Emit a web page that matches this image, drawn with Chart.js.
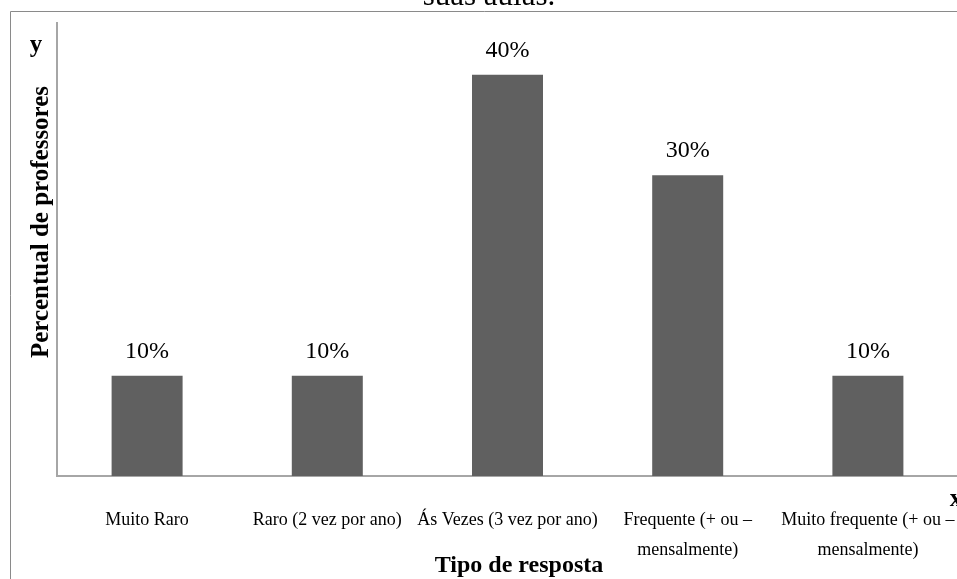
<!DOCTYPE html>
<html>
<head>
<meta charset="utf-8">
<script src="https://cdn.jsdelivr.net/npm/chart.js@4.4.1/dist/chart.umd.min.js"></script>
<style>
  html, body { margin: 0; padding: 0; background: #ffffff; }
  #wrap { position: relative; width: 957px; height: 579px; overflow: hidden; }
  canvas { display: block; }
</style>
</head>
<body>
<div id="wrap"><canvas id="chart" width="958" height="579"></canvas></div>
<script>
// Categories (response types) and share of teachers, in percent
const categories = [
  ['Muito Raro'],
  ['Raro (2 vez por ano)'],
  ['Ás Vezes (3 vez por ano)'],
  ['Frequente (+ ou –', 'mensalmente)'],
  ['Muito frequente (+ ou –', 'mensalmente)']
];
const percentages = [10, 10, 40, 30, 10];
const valueLabels = ['10%', '10%', '40%', '30%', '10%'];
const yAxisMax = 45.2;

const SERIF = '"Liberation Serif", "Times New Roman", Times, serif';
const AXIS_GREY = '#a6a6a6';

// Frame, titles and value labels drawn on top of the chart
const decorations = {
  id: 'decorations',
  afterDatasetsDraw(chart) {
    const ctx = chart.ctx;
    const meta = chart.getDatasetMeta(0);
    ctx.save();
    ctx.fillStyle = '#000';
    ctx.font = '24px ' + SERIF;
    ctx.textAlign = 'center';
    ctx.textBaseline = 'alphabetic';
    meta.data.forEach((bar, i) => {
      ctx.fillText(valueLabels[i], bar.x, bar.y - 18);
    });
    ctx.restore();
  },
  afterDraw(chart) {
    const ctx = chart.ctx;
    ctx.save();
    // outer frame
    ctx.strokeStyle = '#8a8a8a';
    ctx.lineWidth = 1;
    ctx.beginPath();
    ctx.moveTo(10.5, 579);
    ctx.lineTo(10.5, 11.5);
    ctx.lineTo(958, 11.5);
    ctx.stroke();

    ctx.fillStyle = '#000';
    // chart title (last line)
    ctx.font = '31px ' + SERIF;
    ctx.textAlign = 'center';
    ctx.textBaseline = 'alphabetic';
    ctx.fillText('suas aulas.', 489, 5);

    // axis letters
    ctx.font = 'bold 25px ' + SERIF;
    ctx.fillText('y', 36, 52);
    ctx.fillText('x', 956, 506);

    // x axis title
    ctx.font = 'bold 24px ' + SERIF;
    ctx.fillText('Tipo de resposta', 519, 572);

    // y axis title
    ctx.translate(48, 222);
    ctx.rotate(-Math.PI / 2);
    ctx.font = 'bold 25px ' + SERIF;
    ctx.fillText('Percentual de professores', 0, 0);
    ctx.restore();
  }
};

new Chart(document.getElementById('chart'), {
  type: 'bar',
  data: {
    labels: categories,
    datasets: [{
      data: percentages,
      backgroundColor: '#606060',
      borderWidth: 0,
      barPercentage: 0.394,
      categoryPercentage: 1.0
    }]
  },
  options: {
    responsive: false,
    animation: false,
    devicePixelRatio: 1,
    layout: { padding: { left: 57, top: 22.7, right: 0, bottom: 0 } },
    plugins: {
      legend: { display: false },
      title: { display: false },
      tooltip: { enabled: false }
    },
    scales: {
      x: {
        offset: true,
        grid: { display: false, drawTicks: false },
        border: { display: true, color: AXIS_GREY, width: 2 },
        ticks: {
          color: '#000',
          font: { family: SERIF, size: 18, lineHeight: '30px' },
          padding: 29,
          autoSkip: false,
          maxRotation: 0,
          minRotation: 0
        },
        afterFit(scale) {
          scale.height = 103;
          scale.paddingLeft = 0;
          scale.paddingRight = 0;
        }
      },
      y: {
        min: 0,
        max: yAxisMax,
        grid: { display: false, drawTicks: false },
        border: { display: true, color: AXIS_GREY, width: 2 },
        ticks: { display: false },
        afterFit(scale) {
          scale.width = 0;
        }
      }
    }
  },
  plugins: [decorations]
});
</script>
</body>
</html>
